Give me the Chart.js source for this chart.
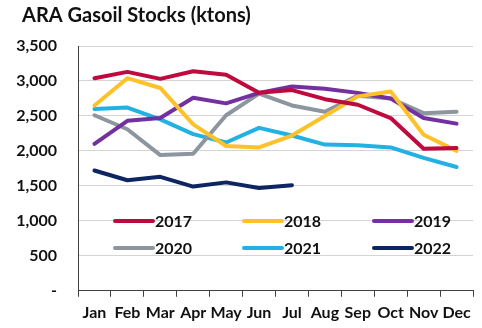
<!DOCTYPE html>
<html>
<head>
<meta charset="utf-8">
<script src="https://cdn.jsdelivr.net/npm/chart.js@4"></script>
<style>
  html, body { margin: 0; padding: 0; background: #fff; }
  #wrap { width: 482px; height: 328px; }
</style>
</head>
<body>
<div id="wrap"><canvas id="myChart"></canvas></div>
<script>
const months = ['Jan', 'Feb', 'Mar', 'Apr', 'May', 'Jun', 'Jul', 'Aug', 'Sep', 'Oct', 'Nov', 'Dec'];
const y2017 = [3040, 3130, 3030, 3140, 3090, 2830, 2870, 2740, 2660, 2470, 2030, 2040];
const y2018 = [2650, 3040, 2900, 2380, 2070, 2050, 2220, 2500, 2780, 2850, 2230, 2000];
const y2019 = [2100, 2430, 2470, 2760, 2680, 2830, 2920, 2890, 2830, 2750, 2470, 2390];
const y2020 = [2510, 2310, 1940, 1960, 2510, 2820, 2650, 2560, 2790, 2750, 2540, 2560];
const y2021 = [2600, 2620, 2450, 2240, 2120, 2330, 2220, 2090, 2080, 2050, 1900, 1770];
const y2022 = [1720, 1580, 1630, 1490, 1550, 1470, 1510];

const yTicks = [0, 500, 1000, 1500, 2000, 2500, 3000, 3500];

const font = 'Lato';
const titleText = 'ARA Gasoil Stocks (ktons)';

// title drawn at a fixed spot, top left
const topTitle = {
  id: 'topTitle',
  afterDraw(chart) {
    const ctx = chart.ctx;
    ctx.save();
    ctx.font = 'bold 20px ' + font;
    ctx.fillStyle = '#111';
    ctx.textBaseline = 'alphabetic';
    ctx.fillText(titleText, 22, 22);
    ctx.restore();
  }
};

// legend sits inside the plot, 3 columns x 2 rows
const insideLegend = {
  id: 'insideLegend',
  afterDatasetsDraw(chart) {
    const { ctx, chartArea } = chart;
    const cols = [37, 166, 296];
    const rows = [175, 202];
    ctx.save();
    ctx.font = 'bold 16px ' + font;
    ctx.textBaseline = 'middle';
    chart.data.datasets.forEach((ds, i) => {
      const x = chartArea.left + cols[i % 3];
      const y = chartArea.top + rows[Math.floor(i / 3)];
      ctx.strokeStyle = ds.borderColor;
      ctx.lineWidth = 4;
      ctx.lineCap = 'round';
      ctx.beginPath();
      ctx.moveTo(x, y);
      ctx.lineTo(x + 38, y);
      ctx.stroke();
      ctx.fillStyle = '#111';
      ctx.fillText(ds.label, x + 40, y + 1);
    });
    ctx.restore();
  }
};

const ctx = document.getElementById('myChart');

new Chart(ctx, {
  type: 'line',
  data: {
    labels: months,
    datasets: [
      { label: '2017', data: y2017, borderColor: '#BE0A3F' },
      { label: '2018', data: y2018, borderColor: '#FDC12A' },
      { label: '2019', data: y2019, borderColor: '#7330A0' },
      { label: '2020', data: y2020, borderColor: '#8D959F' },
      { label: '2021', data: y2021, borderColor: '#21B2E3' },
      { label: '2022', data: y2022, borderColor: '#0E2563' },
    ]
  },
  options: {
    responsive: true,
    maintainAspectRatio: false,
    animation: false,
    elements: {
      line: { borderWidth: 4, tension: 0, borderJoinStyle: 'round', borderCapStyle: 'round' },
      point: { radius: 0 }
    },
    layout: { padding: { left: 4, right: 9, top: 46, bottom: 0 } },
    plugins: {
      legend: { display: false },
      tooltip: { enabled: false },
      title: { display: false }
    },
    scales: {
      x: {
        offset: true,
        grid: { offset: true, drawOnChartArea: false, drawTicks: true, tickLength: 6, color: '#404040' },
        border: { display: true, color: '#404040', width: 1 },
        ticks: { color: '#111', padding: 6, maxRotation: 0, autoSkip: false, font: { family: font, size: 16, weight: 'bold' } }
      },
      y: {
        min: 0,
        max: 3500,
        afterFit(scale) { scale.width = 74; },
        afterBuildTicks(scale) { scale.ticks = yTicks.map(v => ({ value: v })); },
        grid: { color: '#d4d4d4', drawTicks: false },
        border: { display: true, color: '#404040', width: 1 },
        ticks: {
          color: '#111',
          padding: 21,
          font: { family: font, size: 16, weight: 'bold' },
          callback: v => v === 0 ? '-' : v.toLocaleString('en-US')
        }
      }
    }
  },
  plugins: [insideLegend, topTitle]
});
</script>
</body>
</html>
